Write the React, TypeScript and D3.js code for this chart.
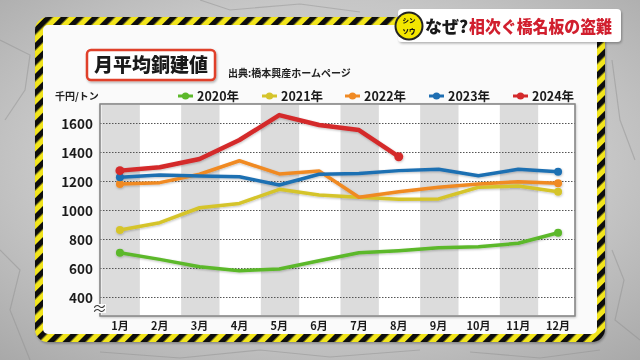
import React from 'react';
import * as d3 from 'd3';

const months = ['1月', '2月', '3月', '4月', '5月', '6月', '7月', '8月', '9月', '10月', '11月', '12月'];
const years = ['2020年', '2021年', '2022年', '2023年', '2024年'];
const v2020 = [709, 663, 612, 585, 597, 654, 709, 723, 743, 750, 774, 847];
const v2021 = [866, 916, 1019, 1049, 1146, 1107, 1091, 1078, 1080, 1160, 1169, 1130];
const v2022 = [1183, 1192, 1250, 1343, 1252, 1272, 1091, 1130, 1160, 1183, 1199, 1188];
const v2023 = [1229, 1245, 1238, 1233, 1176, 1250, 1256, 1275, 1284, 1240, 1284, 1268];
const v2024 = [1275, 1298, 1355, 1486, 1658, 1590, 1555, 1371];
const yTicks = [400, 600, 800, 1000, 1200, 1400, 1600];
const seriesColors = ['#5cb82b', '#d5c42c', '#f08a24', '#1f6fb2', '#d42a2c'];

const FONT = '"Noto Sans CJK JP", "Noto Sans", sans-serif';

export default function App() {
  const series = [v2020, v2021, v2022, v2023, v2024];
  const plot = { left: 100, right: 575, top: 104, bottom: 316 };
  const x = d3.scaleBand<string>().domain(months).range([100, 578]).padding(0);
  const cx = (i: number) => (x(months[i]) as number) + x.bandwidth() / 2;
  const y = d3.scaleLinear().domain([400, 1600]).range([297.5, 123.5]);
  const line = d3.line<number>().x((_, i) => cx(i)).y((d) => y(d));

  const legendX = [178, 262, 345, 429, 513];

  return (
    <svg width={640} height={360} style={{ position: 'fixed', left: 0, top: 0 }} fontFamily={FONT}>
      <defs>
        <radialGradient id="bg" cx="50%" cy="45%" r="75%">
          <stop offset="0%" stopColor="#dcdcdc" />
          <stop offset="60%" stopColor="#c6c6c6" />
          <stop offset="100%" stopColor="#a8a8a8" />
        </radialGradient>
        <pattern id="caution" width="11" height="11" patternUnits="userSpaceOnUse" patternTransform="rotate(45)">
          <rect width="11" height="11" fill="#f2e51c" />
          <rect width="5.5" height="11" fill="#111" />
        </pattern>
        <filter id="sh" x="-10%" y="-10%" width="120%" height="130%">
          <feDropShadow dx="1" dy="1.5" stdDeviation="1.2" floodColor="#000" floodOpacity="0.3" />
        </filter>
        <filter id="lsh" x="-5%" y="-5%" width="110%" height="115%">
          <feDropShadow dx="0.5" dy="1" stdDeviation="0.8" floodColor="#000" floodOpacity="0.25" />
        </filter>
      </defs>

      {/* background */}
      <rect x={0} y={0} width={640} height={360} fill="url(#bg)" />
      <g stroke="#8e8e8e" strokeWidth={1.2} fill="none" opacity={0.45}>
        <path d="M0,40 L30,55 L25,90 L5,120" />
        <path d="M200,0 L230,10 L300,4 L360,12" />
        <path d="M612,60 L620,120 L635,160" />
        <path d="M612,250 L624,280 L615,320 L640,340" />
        <path d="M0,250 L20,270 L10,310 L30,360" />
        <path d="M100,352 L180,358 L260,350 L330,357 L420,350" />
        <path d="M470,352 L540,358 L600,350" />
      </g>

      {/* frame */}
      <rect x={39} y={21} width={562} height={317} rx={9} fill="#fafafa" stroke="url(#caution)" strokeWidth={8} filter="url(#sh)" />

      {/* top-right tag */}
      <rect x={398} y={9} width={223} height={33} rx={4} fill="#fff" filter="url(#sh)" />
      <circle cx={409} cy={26} r={14.5} fill="#222" />
      <circle cx={409} cy={26} r={12.5} fill="#f3e600" />
      <text x={409} y={23} textAnchor="middle" fontSize={6.5} fontWeight={900} fill="#111">シン</text>
      <text x={409} y={33.5} textAnchor="middle" fontSize={6.5} fontWeight={900} fill="#111">ソウ</text>
      <text x={425} y={33} fontSize={17} fontWeight={900} fill="#1a1a1a">なぜ?</text>
      <text x={469} y={33} fontSize={17} fontWeight={900} fill="#d11f2e" textLength={143} lengthAdjust="spacingAndGlyphs">相次ぐ橋名板の盗難</text>

      {/* title box */}
      <rect x={87} y={50} width={128} height={30} rx={4} fill="#fff" stroke="#e0402a" strokeWidth={2.5} filter="url(#sh)" />
      <text x={151} y={72} textAnchor="middle" fontSize={19} fontWeight={900} fill="#1a1a1a">月平均銅建値</text>
      <text x={228} y={77} fontSize={10} fontWeight={700} fill="#222">出典:橋本興産ホームページ</text>

      {/* unit */}
      <text x={55} y={100} fontSize={10} fontWeight={700} fill="#222">千円/トン</text>

      {/* legend */}
      {years.map((yr, i) => (
        <g key={yr}>
          <line x1={legendX[i]} x2={legendX[i] + 15} y1={96} y2={96} stroke={seriesColors[i]} strokeWidth={3} />
          <circle cx={legendX[i] + 7.5} cy={96} r={3.6} fill={seriesColors[i]} />
          <text x={legendX[i] + 19} y={100.5} fontSize={12.5} fontWeight={700} fill="#1a1a1a">{yr}</text>
        </g>
      ))}

      {/* plot area */}
      <g filter="url(#lsh)">
        <rect x={plot.left} y={plot.top} width={plot.right - plot.left} height={plot.bottom - plot.top} fill="#fff" stroke="#8a8a8a" strokeWidth={1.2} />
      </g>
      {months.map((m, i) =>
        i % 2 === 0 ? (
          <rect key={m} x={(x(m) as number) + 1.5} y={plot.top + 1} width={x.bandwidth() - 1.5} height={plot.bottom - plot.top - 2} fill="#dcdcdc" />
        ) : null
      )}
      {yTicks.map((t) => (
        <line key={t} x1={plot.left} x2={plot.right} y1={y(t)} y2={y(t)} stroke="#555" strokeWidth={1} strokeDasharray="1.5,1.5" />
      ))}
      <rect x={plot.left} y={plot.top} width={plot.right - plot.left} height={plot.bottom - plot.top} fill="none" stroke="#8a8a8a" strokeWidth={1.2} />

      {/* y tick labels */}
      {yTicks.map((t) => (
        <text key={t} x={93} y={y(t) + 5} textAnchor="end" fontSize={13.5} fontWeight={700} fill="#1a1a1a">{t}</text>
      ))}
      <rect x={93} y={304} width={13} height={9} fill="#fafafa" />
      <text x={99.5} y={314} textAnchor="middle" fontSize={15} fill="#333">≈</text>

      {/* x labels */}
      {months.map((m, i) => (
        <text key={m} x={cx(i)} y={330} textAnchor="middle" fontSize={11} fontWeight={700} fill="#1a1a1a">{m}</text>
      ))}

      {/* lines */}
      <g filter="url(#lsh)">
        {series.map((s, i) => (
          <g key={years[i]}>
            <path d={line(s) as string} fill="none" stroke={seriesColors[i]} strokeWidth={i === 4 ? 4.5 : 3.5} strokeLinejoin="round" strokeLinecap="round" />
            <circle cx={cx(0)} cy={y(s[0])} r={i === 4 ? 4.5 : 4} fill={seriesColors[i]} />
            <circle cx={cx(s.length - 1)} cy={y(s[s.length - 1])} r={i === 4 ? 4.5 : 4} fill={seriesColors[i]} />
          </g>
        ))}
      </g>
    </svg>
  );
}
